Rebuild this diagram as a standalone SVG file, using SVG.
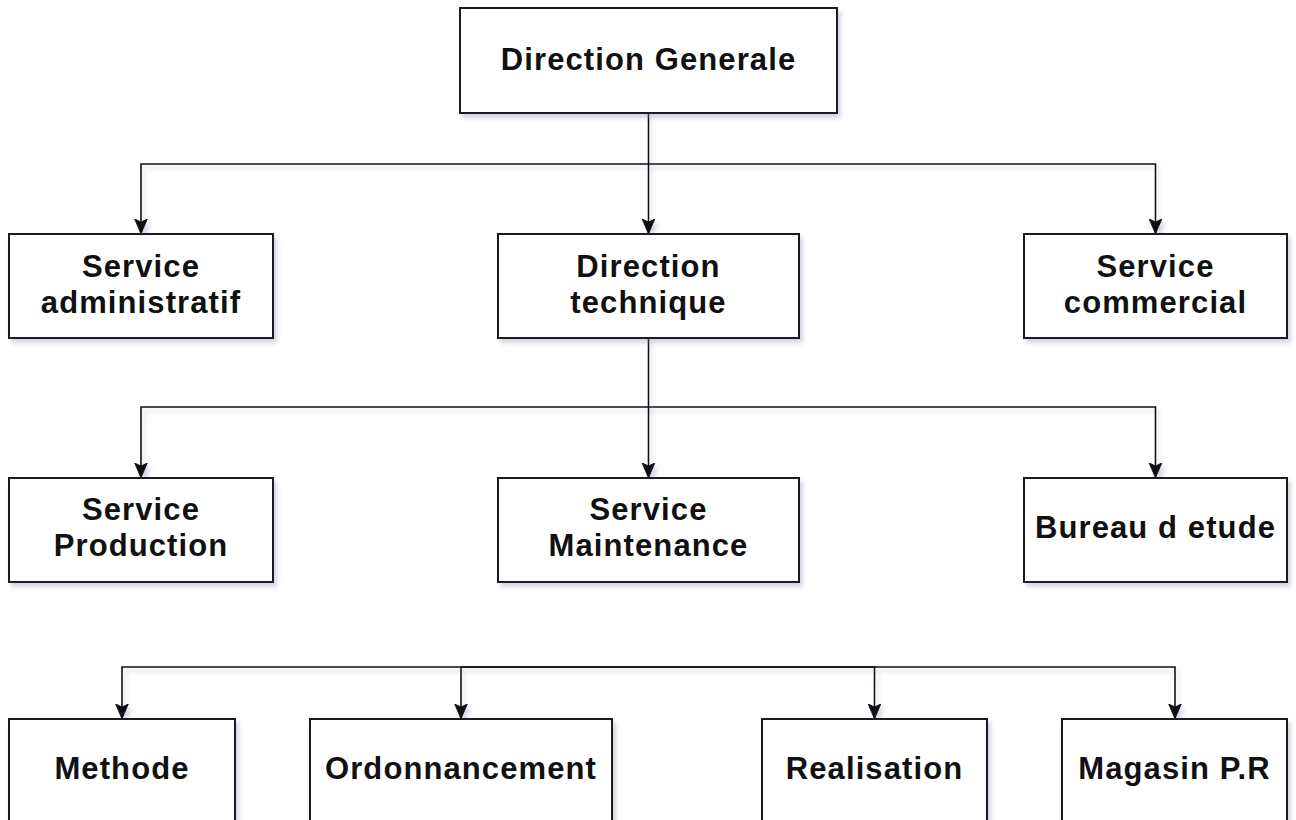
<svg xmlns="http://www.w3.org/2000/svg" width="1296" height="820" viewBox="0 0 1296 820">
<style>
.box{fill:#fff;stroke:#1a1a1a;stroke-width:2;filter:url(#sh)}
.lbl{font-family:"Liberation Sans",Arial,sans-serif;font-weight:bold;font-size:31px;letter-spacing:1.1px;fill:#111;text-anchor:middle}
.edge{fill:none;stroke:#111;stroke-width:1.6;marker-end:url(#arr)}
</style>
<defs>
<filter id="sh" x="-10%" y="-10%" width="130%" height="140%">
<feDropShadow dx="3" dy="4" stdDeviation="2" flood-color="#8088b0" flood-opacity="0.35"/>
</filter>
<marker id="arr" viewBox="0 0 10 10" refX="10" refY="5" markerUnits="userSpaceOnUse" markerWidth="15" markerHeight="15" orient="auto">
<path d="M0,0.8 L10,5 L0,9.2 L2,5 z" fill="#111" stroke="#111" stroke-width="0.6"/>
</marker>
</defs>
<rect width="1296" height="820" fill="#fff"/>
<g id="connectors" filter="url(#sh)">
<path class="edge" d="M648.5,113 V234"/>
<path class="edge" d="M648.5,164 H141 V234"/>
<path class="edge" d="M648.5,164 H1155.5 V234"/>
<path class="edge" d="M648.5,338 V478"/>
<path class="edge" d="M648.5,407 H141 V478"/>
<path class="edge" d="M648.5,407 H1155.5 V478"/>
<path class="edge" d="M461,667 H122 V719"/>
<path class="edge" d="M461,667 V719"/>
<path class="edge" d="M461,667 H874.5 V719"/>
<path class="edge" d="M461,667 H1175 V719"/>
</g>
<g id="n-direction-generale"><rect class="box" x="460" y="8" width="377" height="105"/><text class="lbl" x="648.5" y="70">Direction Generale</text></g>
<g id="n-service-administratif"><rect class="box" x="9" y="234" width="264" height="104"/><text class="lbl" x="141" y="277">Service</text><text class="lbl" x="141" y="313">administratif</text></g>
<g id="n-direction-technique"><rect class="box" x="498" y="234" width="301" height="104"/><text class="lbl" x="648.5" y="277">Direction</text><text class="lbl" x="648.5" y="313">technique</text></g>
<g id="n-service-commercial"><rect class="box" x="1024" y="234" width="263" height="104"/><text class="lbl" x="1155.5" y="277">Service</text><text class="lbl" x="1155.5" y="313">commercial</text></g>
<g id="n-service-production"><rect class="box" x="9" y="478" width="264" height="104"/><text class="lbl" x="141" y="520">Service</text><text class="lbl" x="141" y="556">Production</text></g>
<g id="n-service-maintenance"><rect class="box" x="498" y="478" width="301" height="104"/><text class="lbl" x="648.5" y="520">Service</text><text class="lbl" x="648.5" y="556">Maintenance</text></g>
<g id="n-bureau-etude"><rect class="box" x="1024" y="478" width="263" height="104"/><text class="lbl" x="1155.5" y="538">Bureau d etude</text></g>
<g id="n-methode"><rect class="box" x="9" y="719" width="226" height="104"/><text class="lbl" x="122" y="779">Methode</text></g>
<g id="n-ordonnancement"><rect class="box" x="310" y="719" width="302" height="104"/><text class="lbl" x="461" y="779">Ordonnancement</text></g>
<g id="n-realisation"><rect class="box" x="762" y="719" width="225" height="104"/><text class="lbl" x="874.5" y="779">Realisation</text></g>
<g id="n-magasin"><rect class="box" x="1062" y="719" width="225" height="104"/><text class="lbl" x="1174.5" y="779">Magasin P.R</text></g>
</svg>
